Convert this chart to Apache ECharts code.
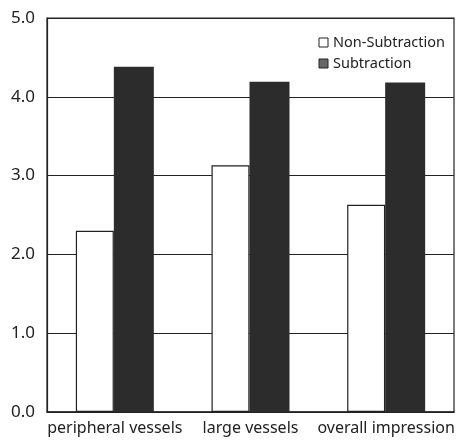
<!DOCTYPE html>
<html>
<head>
<meta charset="utf-8">
<script src="https://cdn.jsdelivr.net/npm/echarts@6/dist/echarts.min.js"></script>
<style>html,body{margin:0;padding:0;background:#fff}#c{width:460px;height:442px}</style>
</head>
<body>
<div id="c"></div>
<script>
var categories = ['peripheral vessels', 'large vessels', 'overall impression'];
var nonSubtraction = [2.30, 3.13, 2.63];
var subtraction = [4.38, 4.19, 4.18];
var yTicks = [0, 1, 2, 3, 4, 5];

var chart = echarts.init(document.getElementById('c'));
var font = '"Noto Sans", "Open Sans", sans-serif';
chart.setOption({
  animation: false,
  backgroundColor: '#fff',
  grid: { left: 47, right: 6, top: 18, bottom: 30, show: true, borderColor: '#222', borderWidth: 1.2, backgroundColor: 'transparent' },
  legend: {
    orient: 'vertical', right: 10, top: 30, itemWidth: 9, itemHeight: 9, itemGap: 6,
    textStyle: { fontFamily: font, fontSize: 14.5, color: '#222' },
    data: [
      { name: 'Non-Subtraction', icon: 'rect', itemStyle: { color: '#fff', borderColor: '#222', borderWidth: 1 } },
      { name: 'Subtraction', icon: 'rect', itemStyle: { color: '#666', borderColor: '#222', borderWidth: 1 } }
    ]
  },
  xAxis: {
    type: 'category', data: categories,
    axisLine: { lineStyle: { color: '#222', width: 1.5 } },
    axisTick: { show: false },
    axisLabel: { fontFamily: font, fontSize: 16, color: '#222', margin: 8, interval: 0 }
  },
  yAxis: {
    type: 'value', min: yTicks[0], max: yTicks[yTicks.length - 1], interval: 1,
    axisLine: { show: true, lineStyle: { color: '#222', width: 1.2 } },
    axisTick: { show: false },
    splitLine: { lineStyle: { color: '#222', width: 1 } },
    axisLabel: { fontFamily: font, fontSize: 17, color: '#222', margin: 12, formatter: function (v) { return v.toFixed(1); } }
  },
  series: [
    { name: 'Non-Subtraction', type: 'bar', data: nonSubtraction, barWidth: 38, barGap: '0%',
      itemStyle: { color: '#fff', borderColor: '#222', borderWidth: 1.2 } },
    { name: 'Subtraction', type: 'bar', data: subtraction, barWidth: 40,
      itemStyle: { color: '#2c2c2c' } }
  ]
});
</script>
</body>
</html>
